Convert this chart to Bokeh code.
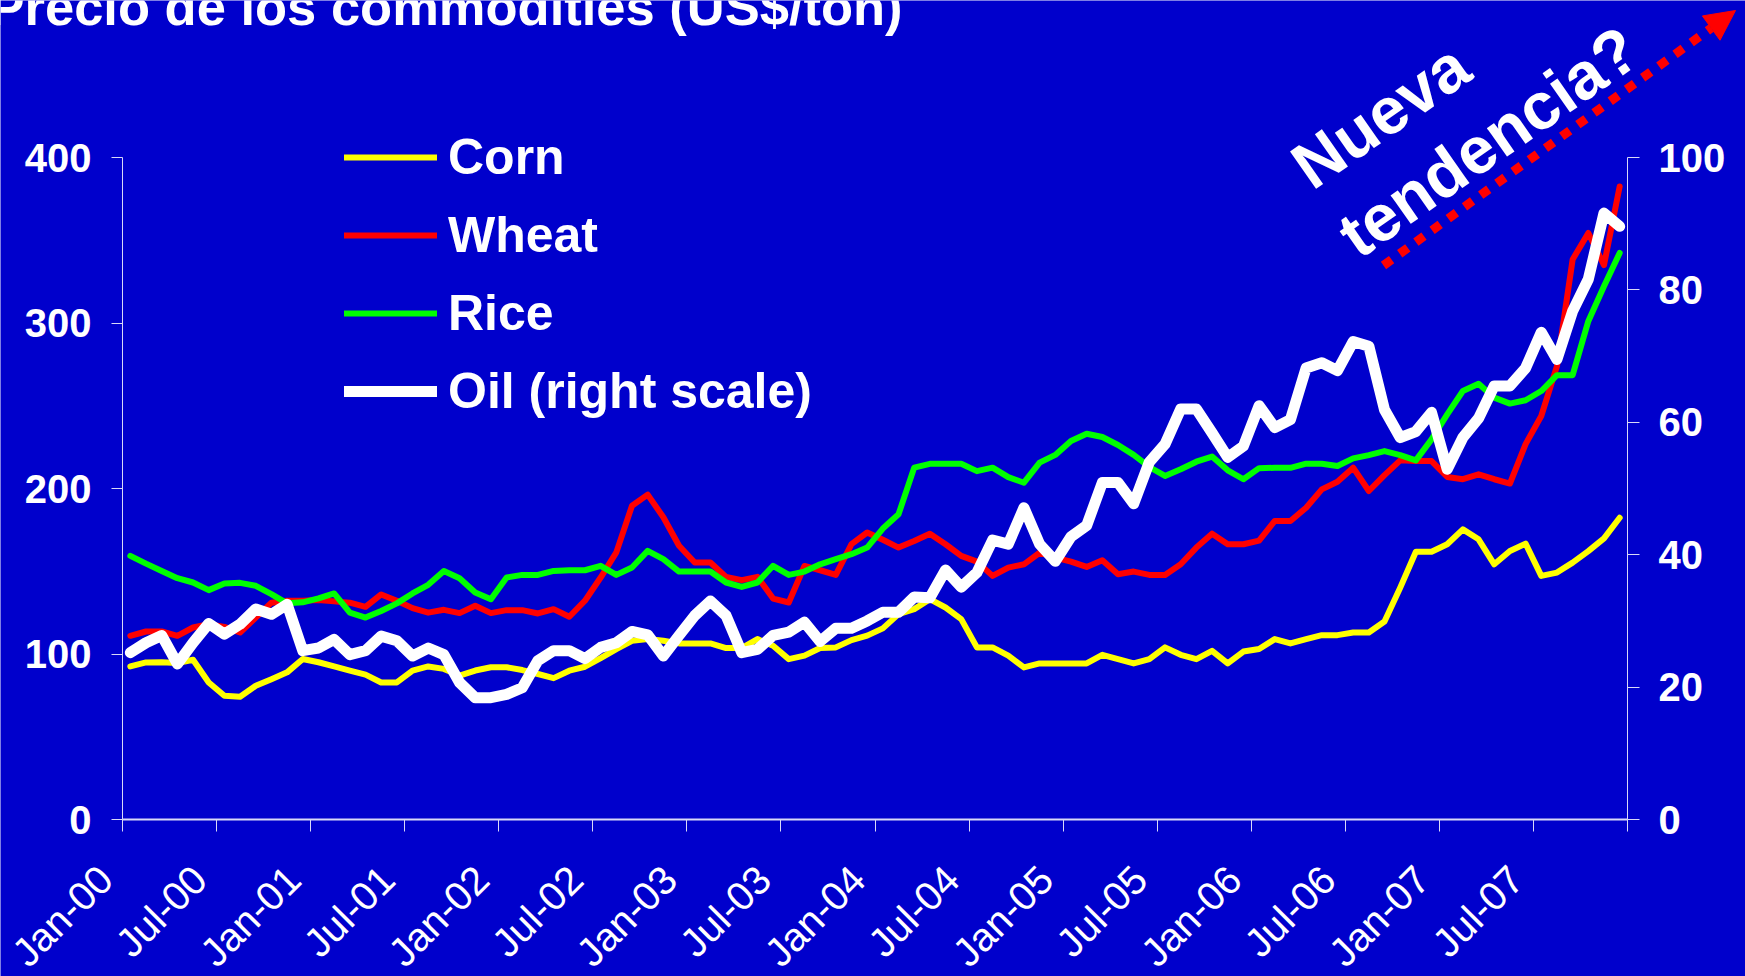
import numpy as np
from math import pi
from bokeh.plotting import figure
from bokeh.models import (Range1d, LinearAxis, FixedTicker, Legend, LegendItem,
                          Label, Arrow, NormalHead)
from bokeh.embed import file_html
from bokeh.resources import INLINE

# ---------------- data (monthly, Jan-2000 .. Dec-2007) ----------------
tick_labels = ["Jan-00", "Jul-00", "Jan-01", "Jul-01", "Jan-02", "Jul-02",
               "Jan-03", "Jul-03", "Jan-04", "Jul-04", "Jan-05", "Jul-05",
               "Jan-06", "Jul-06", "Jan-07", "Jul-07"]

corn = [
    92.5, 94.9, 95.0, 94.6, 96.5, 82.8, 74.8, 74.2, 80.8, 84.8, 88.9, 97.0,
    95.0, 92.5, 90.0, 87.5, 82.8, 82.8, 90.0, 92.5, 91.0, 87.0, 90.0, 92.0,
    92.0, 90.3, 87.9, 85.4, 89.9, 92.3, 97.5, 103.0, 108.0, 109.0, 108.0, 106.4,
    106.4, 106.4, 103.6, 103.6, 109.0, 105.0, 96.9, 99.0, 103.6, 104.0, 108.4, 111.1,
    115.5, 124.1, 127.1, 133.1, 128.1, 121.1, 104.0, 104.0, 99.0, 91.9, 94.3, 94.3,
    94.3, 94.3, 99.5, 96.9, 94.3, 96.9, 104.0, 99.5, 96.9, 101.9, 94.3, 101.5,
    103.0, 109.0, 106.4, 109.0, 111.4, 111.4, 113.0, 113.0, 119.6, 140.1, 161.8, 161.8,
    166.3, 175.3, 169.3, 154.2, 162.2, 166.7, 147.2, 149.2, 155.2, 162.2, 169.9, 182.3,
]

wheat = [
    111.0, 113.6, 113.6, 111.0, 116.0, 118.0, 116.4, 113.0, 122.0, 131.0, 132.2, 132.2,
    132.6, 131.8, 131.0, 128.5, 136.0, 132.2, 127.7, 125.0, 126.7, 124.7, 129.1, 124.7,
    126.5, 126.5, 124.5, 127.1, 122.5, 132.2, 146.2, 161.4, 189.6, 196.3, 182.6, 165.4,
    155.3, 155.3, 146.6, 144.6, 146.6, 133.5, 131.1, 153.2, 150.6, 147.8, 166.4, 173.4,
    169.0, 164.3, 168.3, 172.7, 166.3, 159.3, 155.8, 147.2, 152.2, 154.2, 161.2, 158.2,
    155.8, 152.6, 156.6, 148.2, 149.8, 147.8, 147.8, 154.2, 164.3, 172.7, 166.3, 166.3,
    168.5, 180.4, 180.4, 188.4, 199.5, 204.1, 212.6, 198.5, 208.1, 217.0, 216.6, 216.6,
    207.0, 205.6, 208.6, 205.6, 203.0, 226.8, 243.8, 273.9, 338.4, 354.4, 335.0, 382.5,
]

rice = [
    159.3, 154.6, 150.2, 145.8, 143.2, 138.6, 142.6, 143.0, 141.2, 136.2, 130.6, 131.2,
    133.6, 136.6, 125.0, 122.0, 126.0, 130.6, 136.6, 141.8, 150.2, 145.8, 137.2, 133.1,
    146.2, 147.8, 147.8, 150.2, 150.6, 150.6, 153.3, 147.8, 152.3, 162.3, 157.3, 149.8,
    149.8, 149.8, 143.2, 140.5, 143.2, 153.3, 147.8, 149.8, 154.2, 157.3, 160.3, 164.3,
    175.8, 184.4, 212.6, 214.9, 214.9, 214.9, 210.5, 212.6, 206.9, 203.5, 215.6, 220.3,
    228.7, 233.1, 231.1, 226.3, 220.3, 213.0, 207.6, 211.6, 216.2, 219.3, 211.0, 205.6,
    212.3, 212.5, 212.5, 215.0, 215.0, 213.6, 218.2, 220.2, 222.6, 220.2, 217.0, 229.7,
    244.8, 258.9, 263.3, 254.9, 251.3, 253.3, 258.9, 268.5, 268.5, 301.1, 322.2, 342.3,
]

oil = [
    25.2, 26.7, 27.8, 23.5, 26.7, 29.6, 28.0, 29.5, 31.8, 31.0, 32.5, 25.5,
    25.9, 27.2, 24.9, 25.5, 27.7, 27.0, 24.7, 25.9, 24.9, 20.7, 18.4, 18.4,
    18.9, 19.9, 24.0, 25.5, 25.5, 24.3, 26.0, 26.7, 28.4, 27.9, 24.7, 27.8,
    30.8, 33.0, 30.8, 25.2, 25.7, 27.8, 28.3, 29.8, 26.9, 28.9, 28.9, 30.0,
    31.3, 31.3, 33.6, 33.5, 37.7, 35.1, 37.3, 42.2, 41.6, 47.1, 41.6, 39.0,
    42.7, 44.4, 50.9, 50.9, 47.7, 54.0, 56.7, 62.0, 62.0, 58.4, 54.7, 56.4,
    62.5, 59.2, 60.4, 68.2, 69.0, 67.8, 72.2, 71.5, 61.9, 57.7, 58.6, 61.5,
    52.9, 57.7, 60.6, 65.5, 65.5, 68.2, 73.6, 69.5, 76.8, 81.6, 91.6, 89.6,
]

left_ticks = [0, 100, 200, 300, 400]
right_ticks = [0, 20, 40, 60, 80, 100]

# ---------------- layout geometry ----------------
W, H = 1745, 976
PLOT_L, PLOT_R, PLOT_T, PLOT_B = 122, 1627, 157, 819     # axis box in canvas px
n = len(corn)
y_max, oil_max = 400, 100

xu = (PLOT_R - PLOT_L) / n              # px per month
yu = (PLOT_B - PLOT_T) / y_max          # px per left-axis unit
ou = (PLOT_B - PLOT_T) / oil_max        # px per right-axis unit
x_range = Range1d(-PLOT_L / xu, n + (W - PLOT_R) / xu)
y_range = Range1d(-(H - PLOT_B) / yu, y_max + PLOT_T / yu)
oil_range = Range1d(-(H - PLOT_B) / ou, oil_max + PLOT_T / ou)


def dx(px):   # canvas px -> x data (for annotations only)
    return (px - PLOT_L) / xu


def dy(py):   # canvas px -> left y data (for annotations only)
    return (PLOT_B - py) / yu


BG = "#0000CC"
FONT = "Liberation Sans"
AXIS_COL = "#D8D8F8"

x = np.arange(n) + 0.5          # points sit in the middle of each month category

p = figure(width=W, height=H, x_range=x_range, y_range=y_range,
           output_backend="svg", toolbar_location=None,
           min_border=0, min_border_left=0, min_border_right=0,
           min_border_top=0, min_border_bottom=0,
           background_fill_color=BG, border_fill_color=BG,
           outline_line_color=None)
p.title.visible = False
p.extra_y_ranges = {"oil": oil_range}
p.grid.visible = False

common = dict(line_join="round", line_cap="round")
r_corn = p.line(x, corn, line_color="#FFFF00", line_width=6, **common)
r_wheat = p.line(x, wheat, line_color="#FF0000", line_width=6, **common)
r_rice = p.line(x, rice, line_color="#00FF00", line_width=6, **common)
r_oil = p.line(x, oil, y_range_name="oil", line_color="#FFFFFF", line_width=11, **common)

# ---- x axis: line + tick marks ----
xt = list(range(0, n + 1, 6))
xa = p.xaxis[0]
xa.fixed_location = 0
xa.bounds = (0, n)
xa.ticker = FixedTicker(ticks=xt)
xa.major_label_overrides = {t: "" for t in xt}
xa.major_tick_out = 12
xa.major_tick_in = 0
xa.minor_tick_line_color = None
xa.axis_line_color = AXIS_COL
xa.axis_line_width = 2
xa.major_tick_line_color = AXIS_COL

# ---- x axis: slanted month labels (anchored so that each label ends at its tick) ----
LABEL_SHIFT = 17 / xu
label_ticks = [t - LABEL_SHIFT for t in xt[:-1]]
xl = LinearAxis(fixed_location=0, ticker=FixedTicker(ticks=label_ticks),
                major_label_overrides={t: lab for t, lab in zip(label_ticks, tick_labels)},
                axis_line_color=None, major_tick_line_color=None,
                minor_tick_line_color=None, major_tick_out=0, major_tick_in=0)
xl.major_label_orientation = pi / 4
xl.major_label_text_font = FONT
xl.major_label_text_font_size = "40px"
xl.major_label_text_color = "white"
xl.major_label_standoff = 53
p.add_layout(xl, "below")

# ---- left axis ----
ya = p.yaxis[0]
ya.fixed_location = 0
ya.bounds = (0, y_max)
ya.ticker = FixedTicker(ticks=left_ticks)
ya.major_label_text_font = FONT
ya.major_label_text_font_style = "bold"
ya.major_label_text_font_size = "40px"
ya.major_label_text_color = "white"
ya.major_label_standoff = 20
ya.major_tick_out = 11
ya.major_tick_in = 0
ya.minor_tick_line_color = None
ya.axis_line_color = AXIS_COL
ya.major_tick_line_color = AXIS_COL

# ---- right axis (oil) ----
ra = LinearAxis(y_range_name="oil", ticker=FixedTicker(ticks=right_ticks),
                fixed_location=n, bounds=(0, oil_max))
ra.major_label_text_font = FONT
ra.major_label_text_font_style = "bold"
ra.major_label_text_font_size = "40px"
ra.major_label_text_color = "white"
ra.major_label_standoff = 19
ra.major_tick_out = 12
ra.major_tick_in = 0
ra.minor_tick_line_color = None
ra.axis_line_color = AXIS_COL
ra.major_tick_line_color = AXIS_COL
p.add_layout(ra, "right")

# ---- legend ----
legend = Legend(
    items=[LegendItem(label="Corn", renderers=[r_corn]),
           LegendItem(label="Wheat", renderers=[r_wheat]),
           LegendItem(label="Rice", renderers=[r_rice]),
           LegendItem(label="Oil (right scale)", renderers=[r_oil])],
    location=(344, 556),
    label_text_font=FONT, label_text_font_style="bold",
    label_text_font_size="50px", label_text_color="white",
    glyph_width=93, glyph_height=58, label_height=58,
    label_standoff=11, spacing=20, padding=0, margin=0,
    background_fill_alpha=0, border_line_alpha=0,
)
p.add_layout(legend)

# ---- title (partially cut by the top/left edge as in the source) ----
p.add_layout(Label(x=dx(-11), y=dy(6), text="Precio de los commodities (US$/ton)",
                   text_font=FONT, text_font_style="bold", text_font_size="52.5px",
                   text_color="white", text_align="left", text_baseline="alphabetic"))

# ---- "Nueva tendencia?" annotation with dotted arrow ----
for px_, py_, txt in [(1380, 115, "Nueva"), (1488, 141, "tendencia?")]:
    p.add_layout(Label(x=dx(px_), y=dy(py_), text=txt, angle=35, angle_units="deg",
                       text_font=FONT, text_font_style="bold", text_font_size="66px",
                       text_color="white", text_align="center", text_baseline="alphabetic"))

p.add_layout(Arrow(x_start=dx(1383), y_start=dy(265), x_end=dx(1735), y_end=dy(10),
                   line_color="#FF0000", line_width=9, line_dash="10 10", line_cap="butt",
                   end=NormalHead(size=30, fill_color="#FF0000", line_color="#FF0000",
                                  line_width=1)))

open("out.html", "w").write(file_html(p, INLINE))
